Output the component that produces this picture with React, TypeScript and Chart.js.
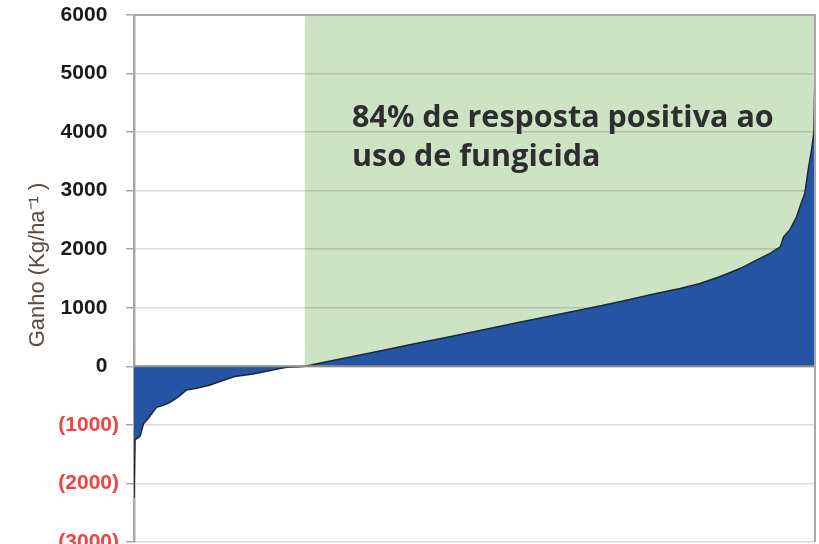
import { useEffect, useRef } from "react";
import { Chart, registerables } from "chart.js";

Chart.register(...registerables);

// Observation rank (percent of trials, sorted by gain) and yield gain (kg/ha)
const ranks = [
  0.0, 0.15, 0.6, 0.9, 1.4, 1.9, 2.6, 3.3, 4.3, 5.3, 6.5, 7.7, 9.2, 11.2, 12.6,
  14.8, 17.5, 20.0, 22.4, 24.4, 25.1, 26.5, 29.2, 33.2, 36.1, 41.0, 46.0, 50.8,
  55.7, 60.6, 65.5, 68.4, 72.8, 76.0, 80.2, 83.1, 86.0, 89.0, 91.4, 93.4, 94.9,
  95.4, 96.3, 97.3, 97.8, 98.5, 99.0, 99.5, 99.85, 100,
];
const gains = [
  -2250, -1250, -1220, -1190, -980, -915, -810, -700, -665, -615, -520, -405,
  -375, -320, -260, -175, -130, -70, -15, -5, 0, 35, 98, 193, 263, 380, 497, 613,
  730, 848, 963, 1030, 1140, 1225, 1330, 1415, 1530, 1670, 1815, 1930, 2040,
  2215, 2330, 2555, 2730, 2955, 3355, 3700, 4010, 5100,
];
const yMin = -3000;
const yMax = 6000;
const yStep = 1000;
const positiveStart = 25.1;
const noteLines = ["84% de resposta positiva ao", "uso de fungicida"];
const yAxisTitle = "Ganho (Kg/ha\u207B\u00B9 )";

export default function App() {
  const ref = useRef<HTMLCanvasElement>(null);

  useEffect(() => {
    const canvas = ref.current;
    if (!canvas) return;

    const decor = {
      id: "decor",
      beforeDraw(chart: any) {
        const { ctx, chartArea, scales } = chart;
        const x0 = scales.x.getPixelForValue(positiveStart);
        const y0 = scales.y.getPixelForValue(0);
        ctx.save();
        ctx.fillStyle = "#cde4c4";
        ctx.fillRect(x0, chartArea.top, chartArea.right - x0, y0 - chartArea.top);
        ctx.restore();
      },
      afterDatasetsDraw(chart: any) {
        const { ctx, chartArea, scales } = chart;
        const y0 = scales.y.getPixelForValue(0);
        ctx.save();
        ctx.strokeStyle = "#8e8e8e";
        ctx.lineWidth = 2;
        ctx.beginPath();
        ctx.moveTo(chartArea.left, y0);
        ctx.lineTo(chartArea.right, y0);
        ctx.stroke();
        ctx.strokeStyle = "#a8a8a8";
        ctx.lineWidth = 2;
        ctx.beginPath();
        ctx.moveTo(chartArea.left, chartArea.top);
        ctx.lineTo(chartArea.right, chartArea.top);
        ctx.lineTo(chartArea.right, chartArea.bottom);
        ctx.stroke();
        ctx.fillStyle = "#2e2e2e";
        ctx.font = '700 30.5px "Open Sans"';
        ctx.textAlign = "left";
        ctx.textBaseline = "alphabetic";
        ctx.fillText(noteLines[0], chartArea.left + 218, chartArea.top + 112);
        ctx.fillText(noteLines[1], chartArea.left + 218, chartArea.top + 151);
        // y axis title
        ctx.translate(44, chartArea.top + 250);
        ctx.rotate(-Math.PI / 2);
        ctx.fillStyle = "#5a4b3f";
        ctx.font = '22px "Liberation Sans", Arial, sans-serif';
        ctx.textAlign = "center";
        ctx.fillText(yAxisTitle, 0, 0);
        ctx.restore();
      },
    };

    const chart = new Chart(canvas, {
      type: "line",
      data: {
        datasets: [
          {
            data: ranks.map((r, i) => ({ x: r, y: gains[i] })),
            borderColor: "#1c2a35",
            borderWidth: 1.5,
            backgroundColor: "#2454a3",
            fill: "origin",
            pointRadius: 0,
            tension: 0,
          },
        ],
      },
      options: {
        responsive: false,
        animation: false,
        layout: { padding: { top: 15, right: 4, bottom: 18, left: 0 } },
        plugins: { legend: { display: false }, tooltip: { enabled: false } },
        scales: {
          x: { type: "linear", min: 0, max: 100, display: false },
          y: {
            min: yMin,
            max: yMax,
            afterFit(scale: any) {
              scale.width = 134;
              scale.paddingTop = 0;
              scale.paddingBottom = 0;
            },
            ticks: {
              stepSize: yStep,
              padding: 7,
              font: { family: '"Liberation Sans", Arial, sans-serif', size: 21, weight: "bold" },
              color: (c: any) => (c.tick && c.tick.value < 0 ? "#ee4444" : "#1a1a1a"),
              callback: (v: any) => (v < 0 ? `(${-v})` : `${v}  `),
            },
            grid: {
              color: "rgba(0,0,0,0.14)",
              lineWidth: 1.5,
              tickLength: 8,
              tickColor: "#a8a8a8",
            },
            border: { display: true, color: "#a8a8a8", width: 2.5 },
            title: { display: false },
          },
        },
      },
      plugins: [decor],
    });

    return () => chart.destroy();
  }, []);

  return (
    <div style={{ position: "fixed", left: 0, top: 0, width: 819, height: 544, overflow: "hidden", background: "#fff" }}>
      <canvas ref={ref} width={819} height={560} style={{ display: "block" }} />
    </div>
  );
}
